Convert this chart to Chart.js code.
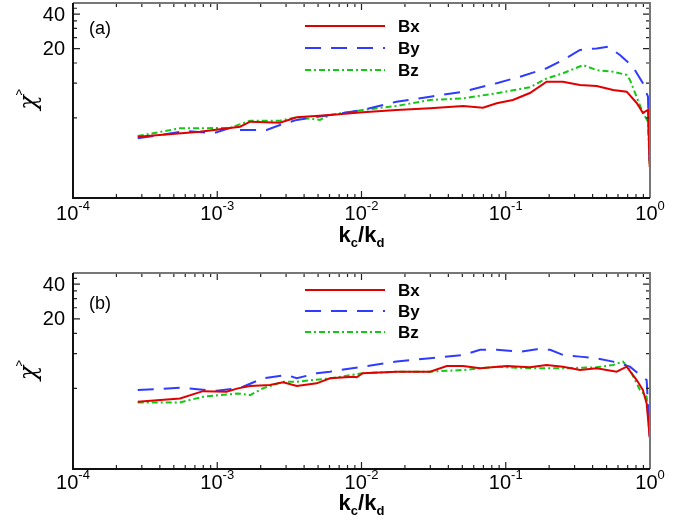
<!DOCTYPE html>
<html>
<head>
<meta charset="utf-8">
<script src="https://cdn.jsdelivr.net/npm/chart.js@4.4.1/dist/chart.umd.min.js"></script>
<style>
  html, body { margin: 0; padding: 0; background: #fff; }
  #wrap { position: relative; width: 694px; height: 522px; }
  canvas { position: absolute; left: 0; }
  #chartA { top: 0; }
  #chartB { top: 260px; }
</style>
</head>
<body>
<div id="wrap">
  <canvas id="chartA" width="694" height="260"></canvas>
  <canvas id="chartB" width="694" height="262"></canvas>
</div>
<script>
// axis ticks
var xDecades = [1e-4, 1e-3, 1e-2, 1e-1, 1];
var xExponents = ['-4', '-3', '-2', '-1', '0'];
var yMinorTicks = [5, 10, 15, 25, 30, 35, 45];
var yMajorTicks = [20, 40];

// panel (a)
var kA_Bx = [2.81e-4, 7.58e-4, 1.22e-3, 1.44e-3, 1.69e-3, 2.72e-3, 3.56e-3, 6.05e-3, 1.02e-2, 1.75e-2, 2.99e-2, 5.06e-2, 6.95e-2, 8.65e-2, 0.112, 0.147, 0.192, 0.249, 0.327, 0.427, 0.555, 0.689, 0.809, 0.893, 0.968, 0.995];
var chiA_Bx = [3.42, 3.78, 4.07, 4.18, 4.62, 4.53, 5.05, 5.29, 5.58, 5.85, 6.05, 6.34, 6.12, 6.68, 7.14, 8.22, 10.3, 10.3, 9.66, 9.46, 8.73, 8.44, 6.73, 5.51, 5.85, 1.87];
var kA_By = [2.81e-4, 6.14e-4, 9.35e-4, 1.22e-3, 1.44e-3, 2.20e-3, 2.72e-3, 3.56e-3, 6.05e-3, 1.02e-2, 1.75e-2, 2.99e-2, 5.06e-2, 8.65e-2, 0.132, 0.192, 0.249, 0.327, 0.427, 0.512, 0.619, 0.762, 0.893, 0.968, 0.995];
var chiA_By = [3.31, 3.84, 3.66, 4.07, 3.92, 3.92, 4.33, 4.79, 5.29, 5.85, 6.90, 7.63, 8.44, 10.0, 11.6, 13.5, 15.9, 19.5, 20.1, 20.8, 17.6, 13.9, 10.0, 7.63, 1.87];
var kA_Bz = [2.81e-4, 5.52e-4, 1.22e-3, 1.69e-3, 2.72e-3, 3.56e-3, 5.15e-3, 6.05e-3, 1.02e-2, 1.75e-2, 2.99e-2, 5.06e-2, 8.65e-2, 0.147, 0.192, 0.249, 0.344, 0.427, 0.555, 0.689, 0.726, 0.893, 0.968, 0.995];
var chiA_Bz = [3.47, 4.05, 4.07, 4.72, 4.72, 5.05, 4.79, 5.29, 5.85, 6.34, 7.14, 7.39, 8.17, 9.22, 11.0, 12.2, 14.4, 13.0, 12.6, 11.8, 10.7, 5.51, 4.62, 1.87];

// panel (b)
var kB_Bx = [2.81e-4, 5.52e-4, 7.96e-4, 1.16e-3, 1.39e-3, 1.69e-3, 2.32e-3, 2.86e-3, 3.56e-3, 4.89e-3, 6.05e-3, 8.73e-3, 9.27e-3, 1.02e-2, 1.75e-2, 2.99e-2, 3.90e-2, 5.06e-2, 6.64e-2, 0.102, 0.147, 0.192, 0.249, 0.327, 0.427, 0.587, 0.689, 0.809, 0.893, 0.948, 0.995];
var chiB_Bx = [3.82, 4.09, 4.73, 4.67, 5.0, 5.24, 5.35, 5.64, 5.24, 5.53, 6.11, 6.31, 6.24, 6.76, 6.98, 6.98, 7.82, 7.82, 7.46, 7.82, 7.62, 7.98, 7.71, 7.21, 7.46, 6.98, 7.71, 5.90, 4.83, 3.70, 1.89];
var kB_By = [2.81e-4, 5.52e-4, 9.9e-4, 1.39e-3, 1.51e-3, 2.07e-3, 3.03e-3, 3.56e-3, 4.89e-3, 6.05e-3, 1.02e-2, 1.75e-2, 2.99e-2, 5.06e-2, 6.64e-2, 8.65e-2, 0.126, 0.164, 0.203, 0.249, 0.327, 0.427, 0.555, 0.726, 0.853, 0.948, 0.995];
var chiB_By = [4.83, 5.06, 4.76, 5.0, 5.16, 6.11, 6.53, 6.11, 6.76, 6.98, 7.71, 8.53, 9.12, 9.75, 10.8, 10.8, 10.4, 10.9, 10.8, 9.75, 9.42, 9.12, 8.53, 7.71, 6.53, 5.90, 1.89];
var kB_Bz = [2.81e-4, 5.52e-4, 7.96e-4, 1.39e-3, 1.69e-3, 2.07e-3, 2.86e-3, 3.56e-3, 6.05e-3, 1.02e-2, 1.75e-2, 2.99e-2, 5.06e-2, 8.65e-2, 0.147, 0.249, 0.427, 0.555, 0.650, 0.726, 0.853, 0.948, 0.995];
var chiB_Bz = [3.78, 3.78, 4.23, 4.52, 4.37, 5.0, 5.71, 5.71, 6.11, 6.76, 6.98, 6.98, 7.21, 7.71, 7.46, 7.46, 7.62, 7.98, 8.53, 7.21, 4.83, 4.23, 1.89];

var seriesNames = ['Bx', 'By', 'Bz'];
var seriesColors = ['#e00000', '#2f3cff', '#16c816'];
var seriesDash = [[], [16, 10], [6, 3, 2, 3]];

function pts(k, v) {
    return k.map(function (x, i) { return { x: x, y: v[i] }; });
}

function frameAndText(opts) {
    return {
        id: 'frame' + opts.tag,
        afterDraw: function (chart) {
            var ctx = chart.ctx;
            var a = chart.chartArea;
            var xs = chart.scales.x, ys = chart.scales.y;
            ctx.save();

            // ticks, inward on all four sides
            ctx.lineWidth = 1.2;
            ctx.strokeStyle = '#222';
            function vTick(px, len) {
                ctx.beginPath();
                ctx.moveTo(px, a.bottom); ctx.lineTo(px, a.bottom - len);
                ctx.moveTo(px, a.top); ctx.lineTo(px, a.top + len);
                ctx.stroke();
            }
            function hTick(py, len) {
                ctx.beginPath();
                ctx.moveTo(a.left, py); ctx.lineTo(a.left + len, py);
                ctx.moveTo(a.right, py); ctx.lineTo(a.right - len, py);
                ctx.stroke();
            }
            xDecades.forEach(function (d, i) {
                vTick(xs.getPixelForValue(d), 7);
                if (i < xDecades.length - 1) {
                    for (var m = 2; m <= 9; m++) vTick(xs.getPixelForValue(d * m), 4);
                }
            });
            yMinorTicks.forEach(function (v) { hTick(ys.getPixelForValue(v), 4); });
            yMajorTicks.forEach(function (v) { hTick(ys.getPixelForValue(v), 7); });

            // frame
            ctx.lineWidth = 2;
            ctx.strokeStyle = '#777';
            ctx.beginPath();
            ctx.moveTo(a.left, a.top); ctx.lineTo(a.right, a.top); ctx.lineTo(a.right, a.bottom);
            ctx.stroke();
            ctx.strokeStyle = '#111';
            ctx.beginPath();
            ctx.moveTo(a.left, a.top); ctx.lineTo(a.left, a.bottom); ctx.lineTo(a.right, a.bottom);
            ctx.stroke();

            ctx.fillStyle = '#000';
            ctx.textBaseline = 'alphabetic';

            // x tick labels 10^n
            xDecades.forEach(function (d, i) {
                var px = xs.getPixelForValue(d);
                ctx.font = '20px "Liberation Sans", Arial, sans-serif';
                var wb = ctx.measureText('10').width;
                ctx.font = '13px "Liberation Sans", Arial, sans-serif';
                var we = ctx.measureText(xExponents[i]).width;
                var x0 = px - (wb + we) / 2;
                ctx.textAlign = 'left';
                ctx.font = '20px "Liberation Sans", Arial, sans-serif';
                ctx.fillText('10', x0, a.bottom + opts.tickBase);
                ctx.font = '13px "Liberation Sans", Arial, sans-serif';
                ctx.fillText(xExponents[i], x0 + wb, a.bottom + opts.tickBase - 10);
            });

            // y tick labels
            ctx.font = '20px "Liberation Sans", Arial, sans-serif';
            ctx.textAlign = 'right';
            ctx.textBaseline = 'middle';
            yMajorTicks.forEach(function (v) {
                ctx.fillText(String(v), a.left - 8, ys.getPixelForValue(v) + 1);
            });

            // x title k_c/k_d
            var cx = (a.left + a.right) / 2;
            var by = a.bottom + opts.titleBase;
            ctx.textBaseline = 'alphabetic';
            ctx.textAlign = 'left';
            var big = 'bold 22px "Liberation Sans", Arial, sans-serif';
            var small = 'bold 13px "Liberation Sans", Arial, sans-serif';
            ctx.font = big; var wk = ctx.measureText('k').width; var ws = ctx.measureText('/').width;
            ctx.font = small; var wc = ctx.measureText('c').width; var wd = ctx.measureText('d').width;
            var tx = cx - (2 * wk + ws + wc + wd) / 2;
            ctx.font = big; ctx.fillText('k', tx, by); tx += wk;
            ctx.font = small; ctx.fillText('c', tx, by + 5); tx += wc;
            ctx.font = big; ctx.fillText('/', tx, by); tx += ws;
            ctx.fillText('k', tx, by); tx += wk;
            ctx.font = small; ctx.fillText('d', tx, by + 5);

            // y title: rotated chi with an upright caret beside it
            var cy = (a.top + a.bottom) / 2;
            ctx.save();
            ctx.translate(30, cy + 2);
            ctx.rotate(-Math.PI / 2);
            ctx.textAlign = 'center';
            ctx.textBaseline = 'middle';
            ctx.font = 'italic 24px "DejaVu Serif", "Liberation Serif", serif';
            ctx.fillText('\u03C7', 0, 0);
            ctx.restore();
            ctx.textAlign = 'center';
            ctx.textBaseline = 'middle';
            ctx.font = '14px "Liberation Sans", Arial, sans-serif';
            ctx.fillText('^', 19, cy - 4);

            // panel label
            ctx.font = '18px "Liberation Sans", Arial, sans-serif';
            ctx.textAlign = 'left';
            ctx.textBaseline = 'middle';
            ctx.fillText(opts.tag, 89, a.top + opts.tagOffset);

            // legend
            chart.data.datasets.forEach(function (ds, i) {
                var ly = a.top + opts.legendTop + i * opts.legendGap;
                ctx.strokeStyle = ds.borderColor;
                ctx.lineWidth = 2;
                ctx.setLineDash(ds.borderDash || []);
                ctx.beginPath();
                ctx.moveTo(305, ly); ctx.lineTo(385, ly);
                ctx.stroke();
                ctx.setLineDash([]);
                ctx.font = 'bold 17px "Liberation Sans", Arial, sans-serif';
                ctx.fillStyle = '#000';
                ctx.fillText(ds.label, 398, ly + 1);
            });

            ctx.restore();
        }
    };
}

function makeChart(id, series, padding, opts) {
    var ctx = document.getElementById(id).getContext('2d');
    return new Chart(ctx, {
        type: 'line',
        data: {
            datasets: series.map(function (s, i) {
                return {
                    label: seriesNames[i],
                    data: s,
                    borderColor: seriesColors[i],
                    borderDash: seriesDash[i],
                    borderWidth: 2,
                    pointRadius: 0,
                    tension: 0,
                    fill: false
                };
            })
        },
        options: {
            responsive: false,
            animation: false,
            layout: { padding: padding },
            plugins: { legend: { display: false }, tooltip: { enabled: false } },
            scales: {
                x: { type: 'logarithmic', min: 1e-4, max: 1, display: false },
                y: { type: 'logarithmic', min: 1, max: 50, display: false }
            }
        },
        plugins: [frameAndText(opts)]
    });
}

makeChart('chartA',
    [pts(kA_Bx, chiA_Bx), pts(kA_By, chiA_By), pts(kA_Bz, chiA_Bz)],
    { left: 73, right: 44, top: 3, bottom: 62 },
    { tag: '(a)', tickBase: 22, titleBase: 44, tagOffset: 26, legendTop: 23, legendGap: 22 });

makeChart('chartB',
    [pts(kB_Bx, chiB_Bx), pts(kB_By, chiB_By), pts(kB_Bz, chiB_Bz)],
    { left: 73, right: 44, top: 13, bottom: 53 },
    { tag: '(b)', tickBase: 20, titleBase: 41, tagOffset: 31, legendTop: 17, legendGap: 21 });
</script>
</body>
</html>
